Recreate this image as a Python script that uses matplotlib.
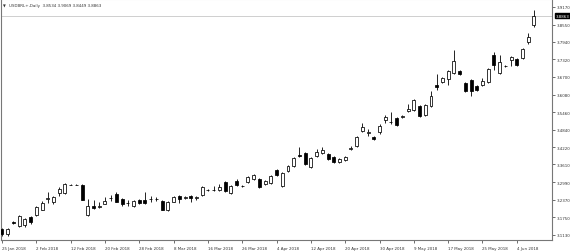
import matplotlib
matplotlib.use("Agg")
import matplotlib.pyplot as plt
import numpy as np

# ---- data -----------------------------------------------------------------
opens = [3.133, 3.116, 3.158, 3.143, 3.149, 3.177, 3.181, 3.201, 3.240, 3.230,
         3.260, 3.260, 3.289, 3.289, 3.290, 3.182, 3.215, 3.211, 3.221, 3.241,
         3.257, 3.239, 3.226, 3.213, 3.237, 3.237, 3.238, 3.240, 3.233, 3.201,
         3.230, 3.251, 3.244, 3.249, 3.244, 3.253, 3.272, 3.271, 3.271, 3.299,
         3.260, 3.303, 3.285, 3.299, 3.310, 3.310, 3.292, 3.296, 3.341, 3.285,
         3.338, 3.356, 3.395, 3.401, 3.352, 3.391, 3.401, 3.398, 3.387, 3.370,
         3.377, 3.416, 3.426, 3.479, 3.472, 3.458, 3.476, 3.518, 3.511, 3.525,
         3.530, 3.550, 3.553, 3.567, 3.536, 3.567, 3.642, 3.652, 3.663, 3.684,
         3.691, 3.649, 3.659, 3.638, 3.642, 3.652, 3.747, 3.684, 3.708, 3.730,
         3.733, 3.737, 3.793, 3.8534]
highs = [3.137, 3.137, 3.160, 3.183, 3.172, 3.180, 3.214, 3.233, 3.265, 3.251,
         3.282, 3.294, 3.292, 3.292, 3.292, 3.239, 3.237, 3.227, 3.245, 3.254,
         3.263, 3.241, 3.234, 3.236, 3.240, 3.263, 3.251, 3.247, 3.236, 3.231,
         3.249, 3.254, 3.249, 3.252, 3.251, 3.284, 3.276, 3.285, 3.292, 3.302,
         3.288, 3.308, 3.288, 3.320, 3.328, 3.313, 3.306, 3.324, 3.345, 3.334,
         3.359, 3.388, 3.423, 3.406, 3.388, 3.416, 3.423, 3.402, 3.391, 3.384,
         3.391, 3.427, 3.462, 3.507, 3.486, 3.462, 3.504, 3.536, 3.546, 3.528,
         3.536, 3.574, 3.592, 3.571, 3.574, 3.620, 3.680, 3.670, 3.694, 3.765,
         3.694, 3.652, 3.663, 3.642, 3.666, 3.702, 3.758, 3.747, 3.712, 3.744,
         3.737, 3.772, 3.825, 3.9069]
lows = [3.110, 3.109, 3.152, 3.139, 3.139, 3.152, 3.178, 3.199, 3.225, 3.221,
        3.251, 3.258, 3.288, 3.288, 3.236, 3.180, 3.204, 3.208, 3.220, 3.233,
        3.229, 3.215, 3.216, 3.210, 3.223, 3.222, 3.229, 3.233, 3.199, 3.198,
        3.227, 3.225, 3.240, 3.227, 3.237, 3.249, 3.268, 3.267, 3.269, 3.263,
        3.257, 3.285, 3.281, 3.296, 3.307, 3.278, 3.288, 3.292, 3.320, 3.282,
        3.334, 3.352, 3.388, 3.359, 3.348, 3.388, 3.398, 3.377, 3.366, 3.366,
        3.373, 3.412, 3.423, 3.475, 3.462, 3.447, 3.469, 3.507, 3.505, 3.497,
        3.525, 3.546, 3.550, 3.528, 3.532, 3.564, 3.624, 3.648, 3.642, 3.680,
        3.677, 3.617, 3.603, 3.620, 3.638, 3.649, 3.694, 3.680, 3.705, 3.709,
        3.709, 3.733, 3.786, 3.8449]
closes = [3.116, 3.133, 3.155, 3.178, 3.169, 3.157, 3.212, 3.225, 3.241, 3.245,
          3.274, 3.292, 3.289, 3.290, 3.237, 3.213, 3.206, 3.216, 3.233, 3.243,
          3.230, 3.221, 3.225, 3.233, 3.225, 3.225, 3.240, 3.238, 3.201, 3.228,
          3.245, 3.239, 3.246, 3.242, 3.246, 3.281, 3.271, 3.272, 3.281, 3.267,
          3.285, 3.289, 3.284, 3.316, 3.324, 3.281, 3.303, 3.320, 3.324, 3.331,
          3.356, 3.384, 3.392, 3.363, 3.384, 3.405, 3.412, 3.380, 3.370, 3.380,
          3.387, 3.419, 3.458, 3.493, 3.474, 3.451, 3.497, 3.528, 3.510, 3.500,
          3.532, 3.557, 3.589, 3.532, 3.571, 3.603, 3.635, 3.666, 3.691, 3.726,
          3.680, 3.620, 3.620, 3.624, 3.656, 3.698, 3.712, 3.723, 3.709, 3.740,
          3.712, 3.769, 3.811, 3.8863]

date_labels = ["25 Jan 2018", "2 Feb 2018", "12 Feb 2018", "20 Feb 2018",
               "28 Feb 2018", "8 Mar 2018", "16 Mar 2018", "26 Mar 2018",
               "4 Apr 2018", "12 Apr 2018", "20 Apr 2018", "30 Apr 2018",
               "9 May 2018", "17 May 2018", "25 May 2018", "4 Jun 2018"]
label_every = 6

price_ticks = [3.1130, 3.1750, 3.2370, 3.2990, 3.3610, 3.4220, 3.4840, 3.5460,
               3.6080, 3.6700, 3.7320, 3.7940, 3.8550, 3.9170]
symbol_title = "USDBRL+,Daily  3.8534 3.9069 3.8449 3.8863"
last_price = 3.8863

# ---- figure ---------------------------------------------------------------
W, H = 570, 253
fig = plt.figure(figsize=(W / 100, H / 100), dpi=100)
ax = fig.add_axes([1 / W, 12 / H, 551 / W, 241 / H])

n = len(opens)
x = np.arange(n)
o = np.array(opens); c = np.array(closes)
hi = np.array(highs); lo = np.array(lows)
up = c >= o

ax.vlines(x, lo, hi, color="black", linewidth=0.6, zorder=2)
bottom = np.minimum(o, c)
height = np.maximum(np.abs(c - o), 0.0008)
ax.bar(x[up], height[up], bottom=bottom[up], width=0.52, color="white",
       edgecolor="black", linewidth=0.55, zorder=3)
ax.bar(x[~up], height[~up], bottom=bottom[~up], width=0.52, color="black",
       edgecolor="black", linewidth=0.55, zorder=3)

ax.set_xlim(-0.17, 96.15)
ax.set_ylim(3.0943, 3.9452)

# current price line
ax.axhline(last_price, color="#c8c8c8", linewidth=0.6, zorder=1)

FS = 2.9
ax.yaxis.tick_right()
ax.set_yticks(price_ticks)
ax.set_yticklabels([f"{v:.4f}" for v in price_ticks])
ax.tick_params(axis="y", direction="out", length=2, width=0.5, pad=1.5,
               labelsize=FS, colors="#333333")
ax.set_xticks([i * label_every for i in range(len(date_labels))])
ax.set_xticklabels(date_labels, ha="left")
ax.tick_params(axis="x", direction="out", length=2, width=0.5, pad=2,
               labelsize=FS, colors="#333333")

for s in ax.spines.values():
    s.set_color("#777777")
    s.set_linewidth(0.8)
ax.spines["top"].set_color("#dddddd")

# last price highlight on the right axis
ax.text(1.006, last_price, f"{last_price:.4f}", transform=ax.get_yaxis_transform(),
        ha="left", va="center", fontsize=FS, color="white",
        bbox=dict(boxstyle="square,pad=0.2", facecolor="black", edgecolor="black"),
        zorder=5, clip_on=False)

# title
ax.text(0.004, 0.982, "\u25bc", transform=ax.transAxes, ha="left", va="top",
        fontsize=2.6, color="#333333")
ax.text(0.014, 0.985, symbol_title, transform=ax.transAxes, ha="left", va="top",
        fontsize=2.9, color="#333333")

fig.savefig("out.png", dpi=100, facecolor="white")
